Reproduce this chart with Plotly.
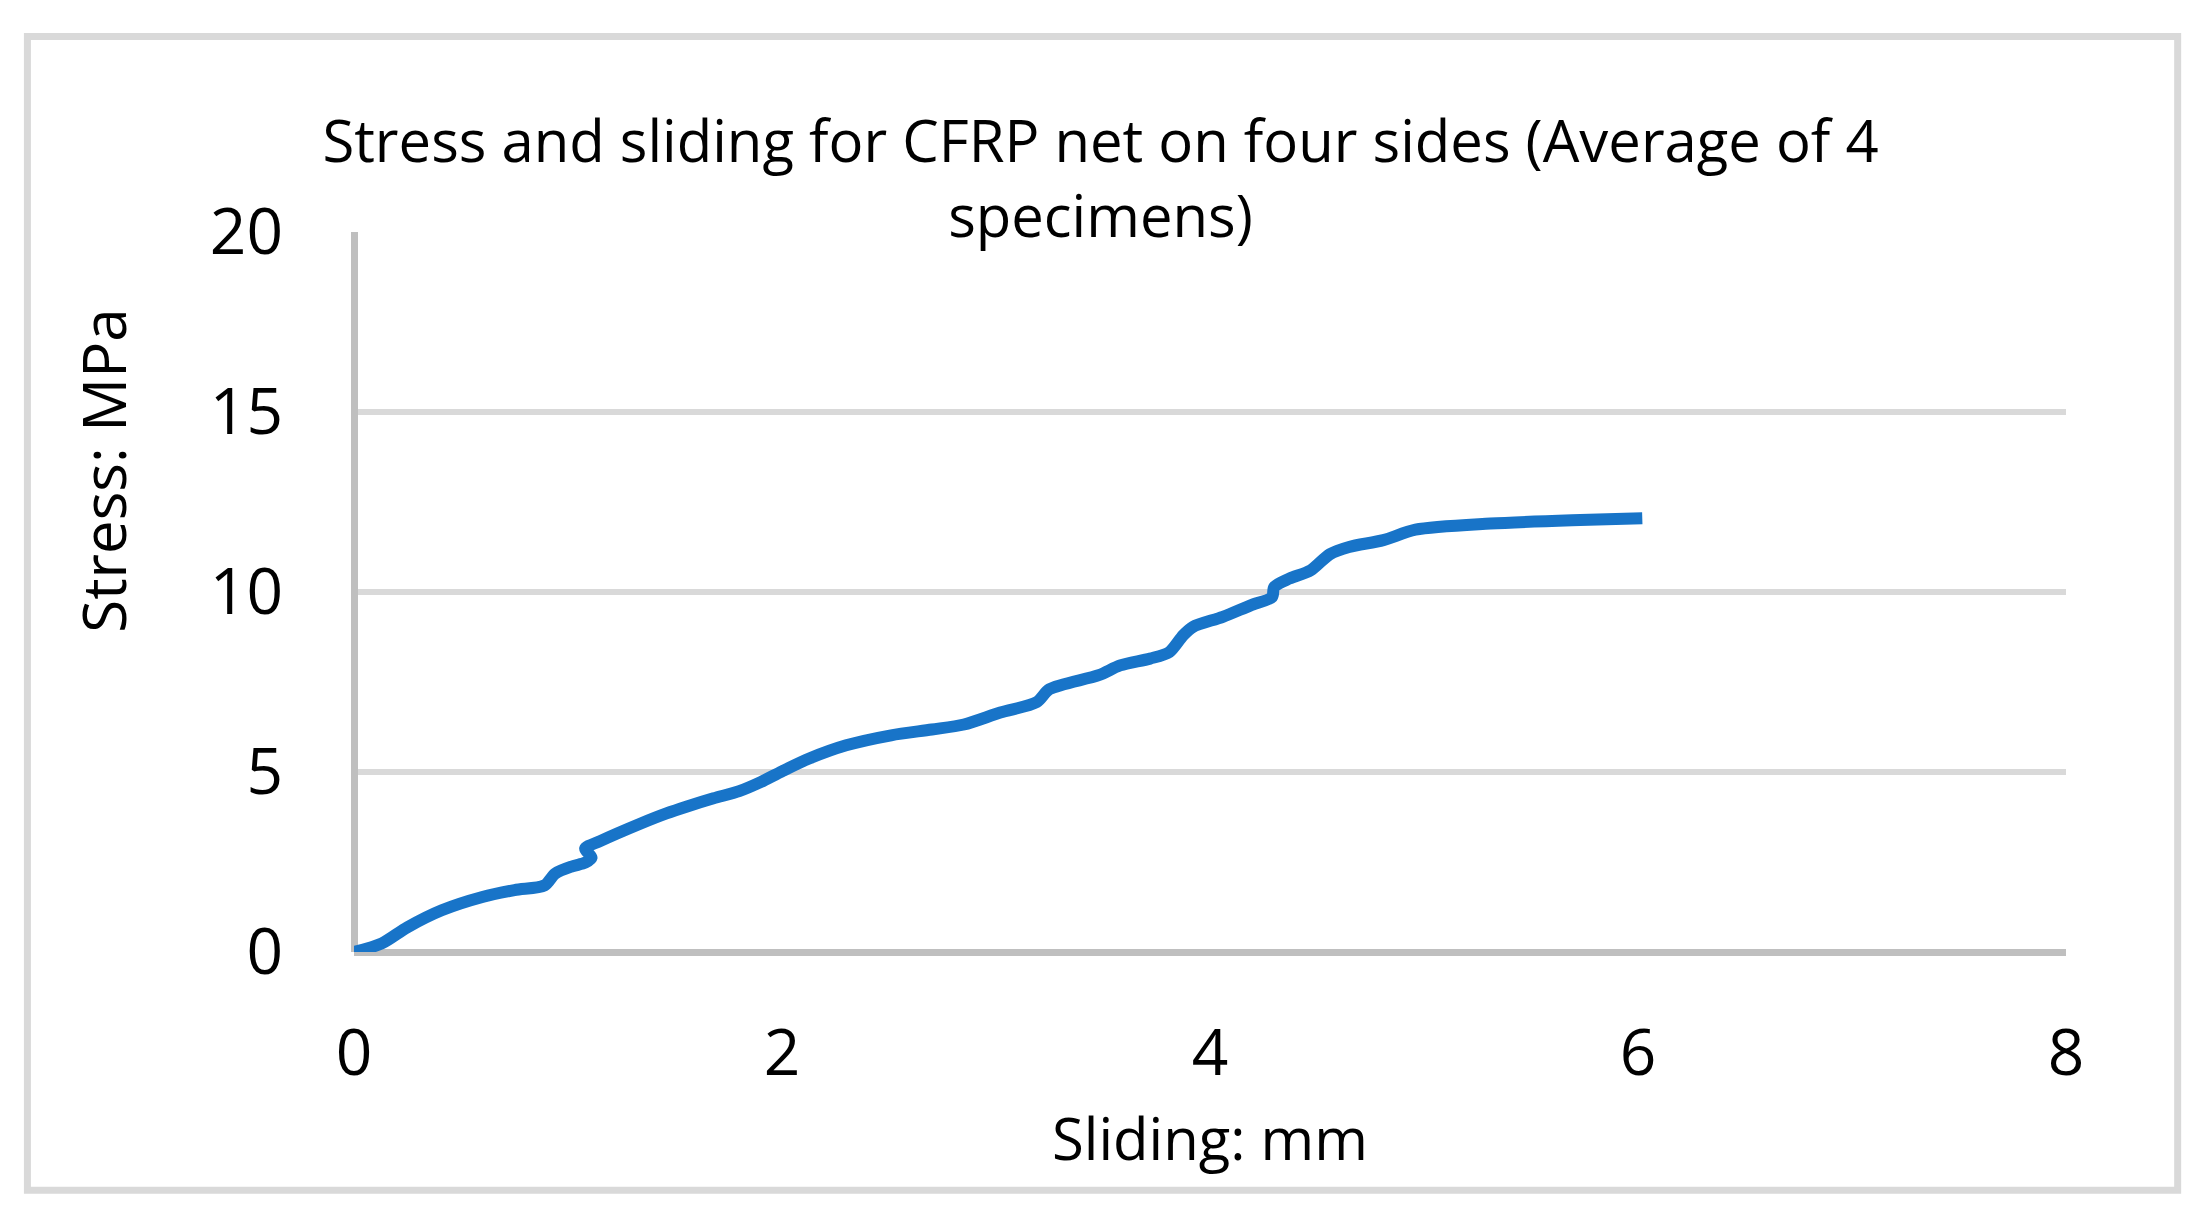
import plotly.graph_objects as go

# ---- data ----
sliding_mm = [0.00, 0.13, 0.25, 0.41, 0.60, 0.75, 0.89, 0.94, 1.02, 1.08, 1.11, 1.08,
              1.15, 1.34, 1.46, 1.56, 1.68, 1.80, 1.90, 2.00, 2.13, 2.30, 2.51, 2.70,
              2.85, 3.02, 3.19, 3.25, 3.48, 3.58, 3.72, 3.81, 3.875, 3.92, 4.06,
              4.19, 4.29, 4.30, 4.37, 4.47, 4.56, 4.65, 4.81, 4.96, 5.31, 5.73, 6.02]
stress_mpa = [0.00, 0.24, 0.69, 1.16, 1.53, 1.72, 1.85, 2.18, 2.38, 2.48, 2.62, 2.87,
              3.08, 3.57, 3.85, 4.05, 4.27, 4.47, 4.72, 5.02, 5.38, 5.74, 6.02, 6.18,
              6.32, 6.65, 6.94, 7.30, 7.69, 7.96, 8.15, 8.33, 8.80, 9.03, 9.31,
              9.63, 9.86, 10.14, 10.37, 10.60, 11.05, 11.25, 11.44, 11.73, 11.90, 12.00, 12.05]
x_ticks = [0, 2, 4, 6, 8]
y_ticks = [0, 5, 10, 15, 20]
title_text = "Stress and sliding for CFRP net on four sides (Average of 4<br>specimens)"
x_title = "Sliding: mm"
y_title = "Stress: MPa"

# ---- layout geometry (page pixels, body has 8px margin) ----
OFF = 8
W, H = 2201 - 2 * OFF, 1222 - 2 * OFF
pl, pr, pt, pb = 353.7 - OFF, 2066.3 - OFF, 231.6 - OFF, 951.7 - OFF
pw, ph = pr - pl, pb - pt


def px(xpage):
    return (xpage - OFF - pl) / pw


def py(ypage):
    return (pb - (ypage - OFF)) / ph


FONT = "Open Sans"
blue = "#1874C8"

fig = go.Figure()
fig.add_trace(go.Scatter(
    x=sliding_mm, y=stress_mpa, mode="lines",
    line=dict(color=blue, width=12, shape="spline", smoothing=0.8),
    showlegend=False, hoverinfo="skip",
))

fig.update_layout(
    width=W, height=H,
    margin=dict(l=pl, r=W - pr, t=pt, b=H - pb, pad=0),
    paper_bgcolor="white", plot_bgcolor="white",
    font=dict(family=FONT, color="black"),
    title=dict(text=title_text, x=0.5, xref="container", xanchor="center",
               y=1 - (162 - OFF) / H, yref="container", yanchor="top",
               font=dict(size=58, family=FONT, color="black")),
    xaxis=dict(range=[0, 8], tickvals=x_ticks, showgrid=False, showline=False,
               zeroline=True, zerolinecolor="#BFBFBF", zerolinewidth=7,
               ticks="", ticklabelstandoff=58,
               tickfont=dict(size=64, family=FONT, color="black")),
    yaxis=dict(range=[0, 20], tickvals=y_ticks, showgrid=True, gridcolor="#D9D9D9",
               gridwidth=6, showline=False,
               zeroline=True, zerolinecolor="#BFBFBF", zerolinewidth=7,
               ticks="", ticklabelstandoff=70,
               tickfont=dict(size=64, family=FONT, color="black")),
    annotations=[
        dict(text=x_title, xref="paper", yref="paper", x=0.5, y=py(1137),
             xanchor="center", yanchor="middle", showarrow=False,
             font=dict(size=58, family=FONT, color="black")),
        dict(text=y_title, xref="paper", yref="paper", x=px(103), y=py(470),
             xanchor="center", yanchor="middle", showarrow=False, textangle=-90,
             font=dict(size=60, family=FONT, color="black")),
    ],
    shapes=[
        dict(type="rect", xref="paper", yref="paper",
             x0=px(27), x1=px(2178), y0=py(1190), y1=py(36),
             line=dict(color="#D9D9D9", width=7), fillcolor="rgba(0,0,0,0)",
             layer="below"),
    ],
)

fig.write_html("out.html")
